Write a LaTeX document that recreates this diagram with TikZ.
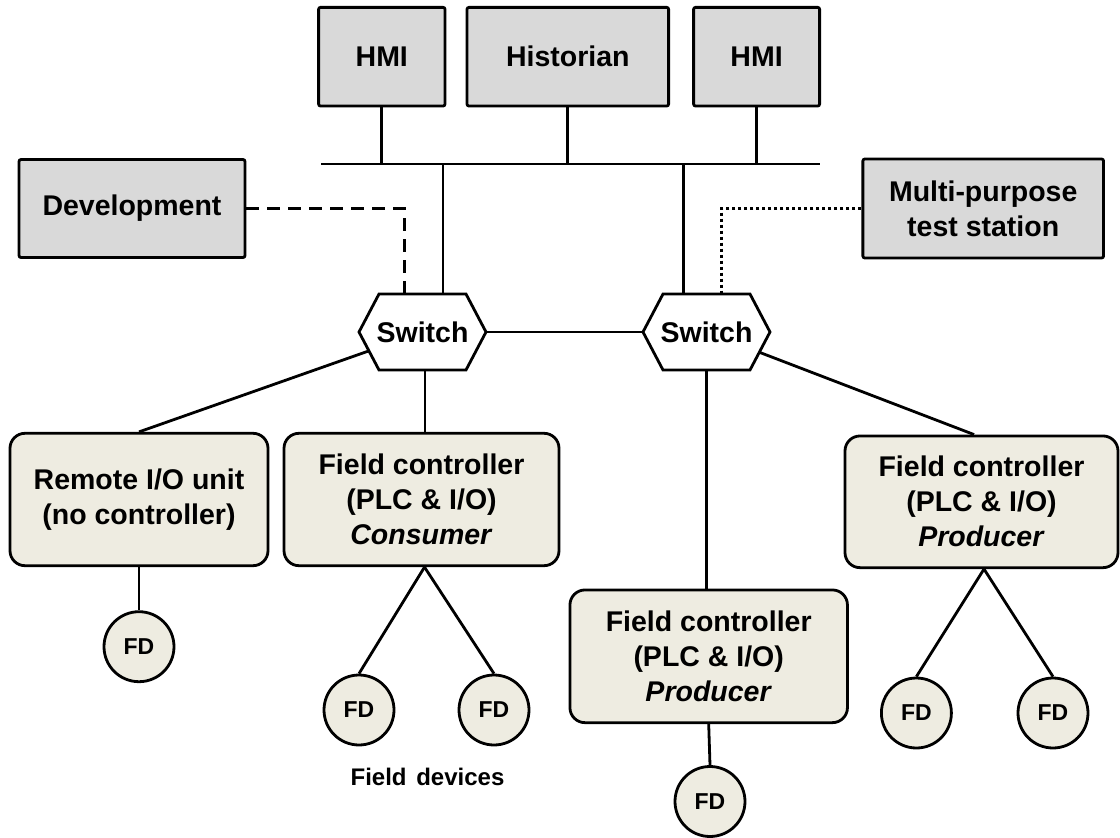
\documentclass[tikz,border=0pt]{standalone}
\usepackage{fontspec}
\setmainfont{Liberation Sans}
\usetikzlibrary{backgrounds}
\definecolor{boxgray}{HTML}{D9D9D9}
\definecolor{beige}{HTML}{EEECE1}
\begin{document}
\begin{tikzpicture}[x=1pt,y=-1pt,line width=2.8pt,
  font=\fontsize{28.5}{35}\selectfont\bfseries,
  graybox/.style={draw,fill=boxgray,rounded corners=2pt,align=center,inner sep=0pt},
  ctrlbox/.style={draw,fill=beige,rounded corners=15pt,align=center,inner sep=0pt},
  fdnode/.style={draw,fill=beige,circle,minimum size=70pt,inner sep=0pt,font=\fontsize{23}{26}\selectfont\bfseries},
  switchnode/.style={minimum width=127pt,minimum height=76pt,inner sep=0pt,outer sep=0pt},
  hexborder/.style={draw,fill=white,line width=2.8pt},
  link/.style={line width=2.8pt},
  devlink/.style={link,dash pattern=on 13pt off 8pt},
  testlink/.style={link,dash pattern=on 3pt off 3pt}]
\useasboundingbox (0,0) rectangle (1120,838);

% top stations
\node[graybox,minimum width=126.4pt,minimum height=98.7pt] (hmiA) at (381.8,56.7) {HMI};
\node[graybox,minimum width=201.6pt,minimum height=98.7pt] (hist) at (567.8,56.7) {Historian};
\node[graybox,minimum width=126pt,minimum height=98.7pt] (hmiB) at (756.6,56.7) {HMI};
\coordinate (busL) at (321.4,164);
\coordinate (busR) at (819.6,164);
\node[graybox,minimum width=226pt,minimum height=98pt] (dev) at (132,208.5) {Development};
\node[graybox,minimum width=240.7pt,minimum height=99pt] (mpt) at (983.2,208.5) {Multi-purpose\\test station};

% switches
\node[switchnode] (swL) at (422.5,332) {Switch};
\node[switchnode] (swR) at (706.5,332) {Switch};

% controllers
\node[ctrlbox,minimum width=258pt,minimum height=132.4pt] (rio) at (139,499.5) {Remote I/O unit\\(no controller)};
\node[ctrlbox,minimum width=275pt,minimum height=132.4pt] (cons) at (421.5,499.5) {Field controller\\(PLC \& I/O)\\\textit{Consumer}};
\node[ctrlbox,minimum width=277.5pt,minimum height=132.7pt] (prodM) at (708.7,656.3) {Field controller\\(PLC \& I/O)\\\textit{Producer}};
\node[ctrlbox,minimum width=273pt,minimum height=131.7pt] (prodR) at (981.5,501.8) {Field controller\\(PLC \& I/O)\\\textit{Producer}};

% field devices
\node[fdnode] (fd1) at (139,646.7) {FD};
\node[fdnode] (fd2) at (359,710) {FD};
\node[fdnode] (fd3) at (494,710) {FD};
\node[fdnode] (fd4) at (710,801.5) {FD};
\node[fdnode] (fd5) at (916.4,713) {FD};
\node[fdnode] (fd6) at (1053,713) {FD};
\node[font=\fontsize{24}{28}\selectfont\bfseries] (fdlabel) at (427.5,777) {Field\hspace{3pt} devices};

\begin{pgfonlayer}{background}
  \draw[link] (busL) -- (busR);
  \draw[link] (hmiA.south) -- (hmiA.south |- busL);
  \draw[link] (hist.south) -- (hist.south |- busL);
  \draw[link] (hmiB.south) -- (hmiB.south |- busL);
  \draw[link] ([xshift=20.5pt]swL.north) -- ([xshift=20.5pt]swL.north |- busL);
  \draw[link] ([xshift=-23pt]swR.north) -- ([xshift=-23pt]swR.north |- busL);
  \draw[devlink] (dev.east) -| ([xshift=-17.9pt]swL.north);
  \draw[testlink] (mpt.west) -| ([xshift=15pt]swR.north);
  \draw[link] (swL.east) -- (swR.west);
  \draw[link] (swL.center) -- (rio.north);
  \draw[link] (swR.center) -- ([xshift=-7.5pt]prodR.north);
  \draw[link] ([xshift=2.5pt]swL.south) -- ([xshift=2.5pt]swL.south |- cons.north);
  \draw[link] (swR.south) -- (swR.south |- prodM.north);
  \draw[link] (rio.south) -- (fd1.north);
  \draw[link] ([xshift=3pt]cons.south) -- (fd2.north);
  \draw[link] ([xshift=3pt]cons.south) -- (fd3.north);
  \draw[link] (prodM.south) -- (fd4.north);
  \draw[link] ([xshift=2.5pt]prodR.south) -- (fd5.north);
  \draw[link] ([xshift=2.5pt]prodR.south) -- (fd6.north);
  \path[hexborder] (swL.west) -- ([xshift=20pt]swL.north west) -- ([xshift=-20pt]swL.north east) -- (swL.east) -- ([xshift=-20pt]swL.south east) -- ([xshift=20pt]swL.south west) -- cycle;
  \path[hexborder] (swR.west) -- ([xshift=20pt]swR.north west) -- ([xshift=-20pt]swR.north east) -- (swR.east) -- ([xshift=-20pt]swR.south east) -- ([xshift=20pt]swR.south west) -- cycle;
\end{pgfonlayer}
\end{tikzpicture}
\end{document}
